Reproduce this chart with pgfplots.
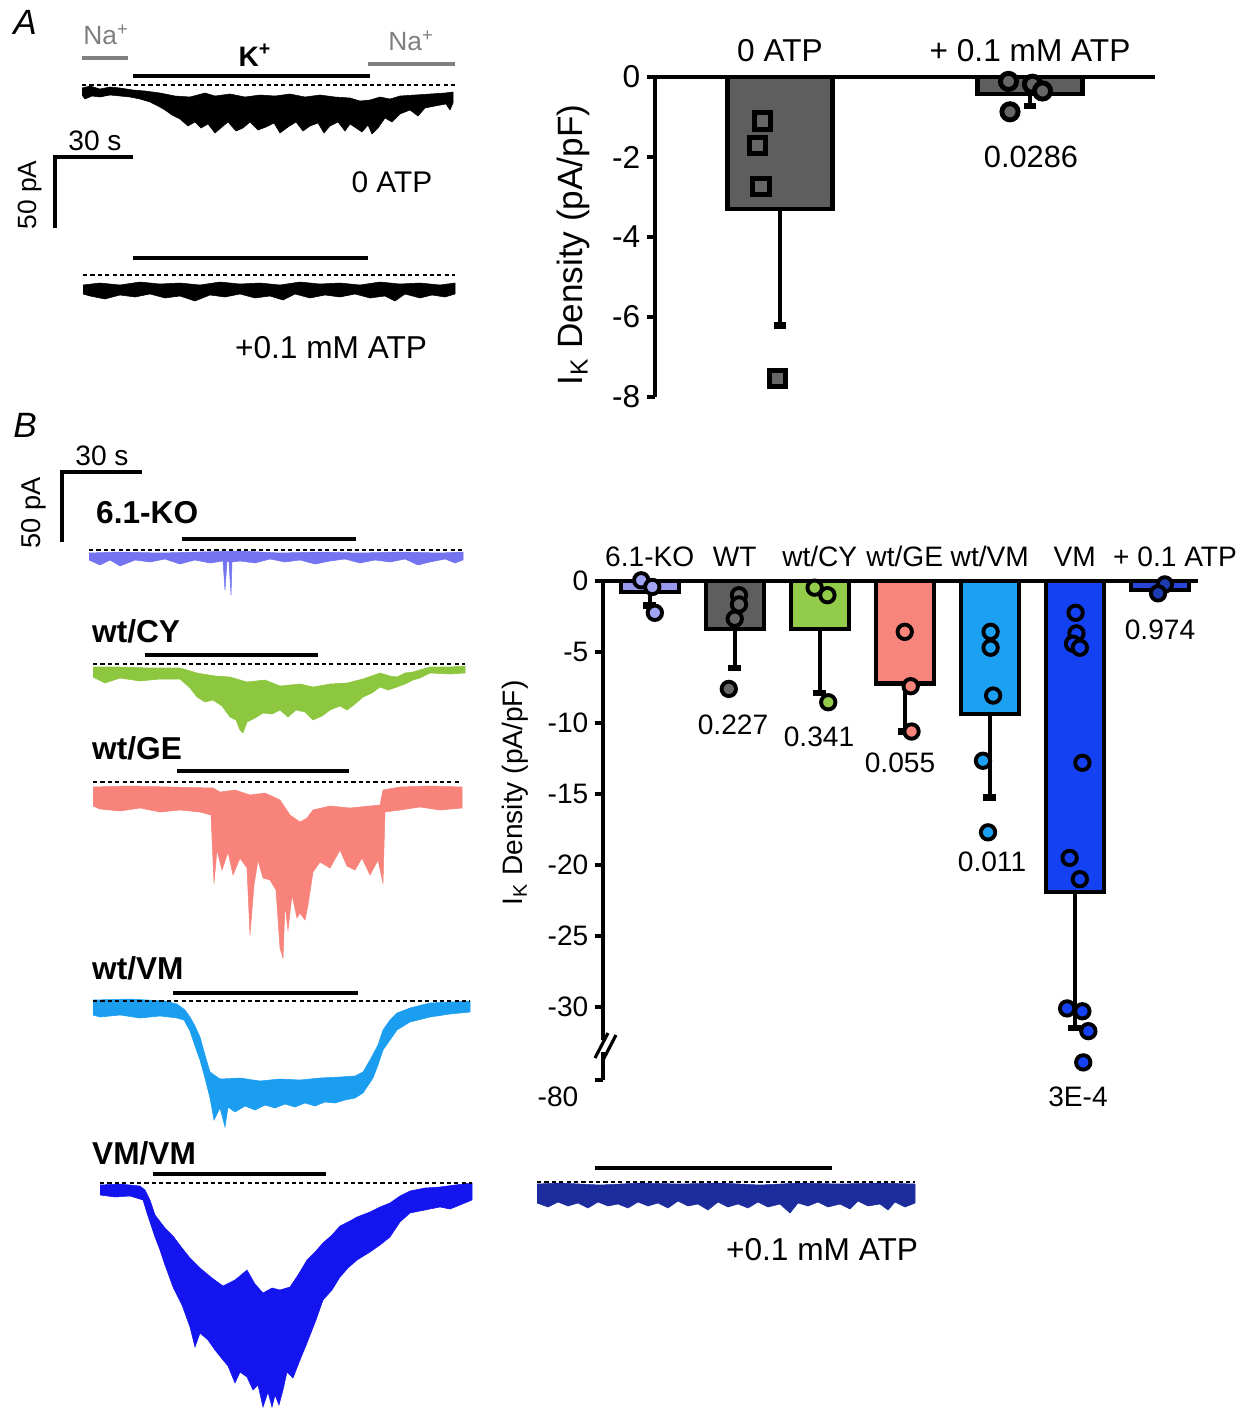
\documentclass[border=0pt]{standalone}
\usepackage{pgfplots}
\pgfplotsset{compat=1.18}
\usepackage{fontspec}
\setmainfont{Liberation Sans}
\newcommand{\fs}[1]{\fontsize{#1}{#1}\selectfont}
\definecolor{ggray}{HTML}{5E5E5E}
\definecolor{ptgray}{HTML}{666666}
\definecolor{kocol}{HTML}{9898EE}
\definecolor{kopt}{HTML}{A0A4F4}
\definecolor{kotr}{HTML}{7474F0}
\definecolor{cycol}{HTML}{92CC4A}
\definecolor{cytr}{HTML}{8DC63F}
\definecolor{gecol}{HTML}{F7857C}
\definecolor{getr}{HTML}{F7837B}
\definecolor{wvcol}{HTML}{1BA0F2}
\definecolor{wvtr}{HTML}{1B9DF0}
\definecolor{vmcol}{HTML}{1441F2}
\definecolor{vmtr}{HTML}{1414EE}
\definecolor{atpcol}{HTML}{2B45D8}
\definecolor{atppt}{HTML}{1D3CB0}
\definecolor{atptr}{HTML}{1C2C9C}
\definecolor{nagray}{HTML}{808080}
\pgfplotsset{
  barax/.style={scale only axis, enlargelimits=false, clip=false,
    axis x line=top, axis y line=left,
    axis line style={line width=2.3pt,-}, x axis line style={-}, y axis line style={-},
    x tick style={draw=none}, tick align=outside,
    y tick style={line width=2.3pt, black}, major tick length=0.17cm},
  errl/.style={black, line width=2.3pt, forget plot, mark=none},
  errc/.style={black, only marks, mark=-, mark size=3.6pt, mark options={line width=3.6pt}, forget plot},
}
\begin{document}
\begin{tikzpicture}
% ---------------- Panel A bar chart ----------------
\begin{axis}[barax, at={(13.1cm,20.4cm)}, anchor=south west, width=10cm, height=6.4cm,
  xmin=0.5, xmax=2.5, ymin=-8, ymax=0,
  xtick={1,2}, xticklabels={0 ATP,+ 0.1 mM ATP},
  ytick={-8,-6,-4,-2,0}, yticklabels={-8,-6,-4,-2,0},
  ticklabel style={font=\fs{18}}]
\addplot[ybar, bar shift=0pt, bar width=0.42, fill=ggray, draw=black, line width=2.3pt] coordinates {(1,-3.31)};
\addplot[ybar, bar shift=0pt, bar width=0.42, fill=ggray, draw=black, line width=2.3pt] coordinates {(2,-0.42)};
\addplot[errl] coordinates {(1,-3.31) (1,-6.21)};
\addplot[errl] coordinates {(2,-0.42) (2,-0.73)};
\addplot[errc] coordinates {(1,-6.21) (2,-0.73)};
\addplot[only marks, mark=square*, mark size=4.6pt, mark options={fill=ptgray, draw=black, line width=2.8pt}]
  coordinates {(0.93,-1.10) (0.91,-1.71) (0.924,-2.73) (0.99,-7.54)};
\addplot[only marks, mark=*, mark size=4.6pt, mark options={fill=ptgray, draw=black, line width=2.8pt}]
  coordinates {(1.914,-0.11) (2.01,-0.18) (2.05,-0.35) (1.92,-0.87)};
\end{axis}
% ---------------- Panel B bar chart ----------------
\begin{axis}[barax, at={(12.06cm,6.74cm)}, anchor=south west, width=11.9cm, height=9.98cm,
  xmin=0.45, xmax=7.45, ymin=-35.14, ymax=0,
  xtick={1,2,3,4,5,6,7.18}, xticklabels={6.1-KO,WT,wt/CY,wt/GE,wt/VM,VM,+ 0.1 ATP},
  ytick={-35.14,-30,-25,-20,-15,-10,-5,0}, yticklabels={,-30,-25,-20,-15,-10,-5,0},
  ticklabel style={font=\fs{16}}]
\addplot[ybar, bar shift=0pt, bar width=0.68, fill=kocol, draw=black, line width=2.3pt] coordinates {(1,-0.78)};
\addplot[ybar, bar shift=0pt, bar width=0.68, fill=ggray, draw=black, line width=2.3pt] coordinates {(2,-3.36)};
\addplot[ybar, bar shift=0pt, bar width=0.68, fill=cycol, draw=black, line width=2.3pt] coordinates {(3,-3.36)};
\addplot[ybar, bar shift=0pt, bar width=0.68, fill=gecol, draw=black, line width=2.3pt] coordinates {(4,-7.22)};
\addplot[ybar, bar shift=0pt, bar width=0.68, fill=wvcol, draw=black, line width=2.3pt] coordinates {(5,-9.36)};
\addplot[ybar, bar shift=0pt, bar width=0.68, fill=vmcol, draw=black, line width=2.3pt] coordinates {(6,-21.9)};
\addplot[ybar, bar shift=0pt, bar width=0.68, fill=atpcol, draw=black, line width=2.3pt] coordinates {(7,-0.66)};
\addplot[errl] coordinates {(1,-0.78) (1,-1.72)};
\addplot[errl] coordinates {(2,-3.36) (2,-6.12)};
\addplot[errl] coordinates {(3,-3.36) (3,-7.88)};
\addplot[errl] coordinates {(4,-7.22) (4,-10.6)};
\addplot[errl] coordinates {(5,-9.36) (5,-15.25)};
\addplot[errl] coordinates {(6,-21.9) (6,-31.5)};
\addplot[errl] coordinates {(7,-0.66) (7,-0.86)};
\addplot[errc] coordinates {(1,-1.72) (2,-6.12) (3,-7.88) (4,-10.6) (5,-15.25) (6,-31.5) (7,-0.86)};
\pgfplotsset{ptst/.style={only marks, mark=*, mark size=4.1pt, mark options={fill=#1, draw=black, line width=2.2pt}}}
\addplot[ptst=kopt] coordinates {(0.90,0.05) (1.03,-0.42) (1.06,-2.24)};
\addplot[ptst=ptgray] coordinates {(2.05,-1.0) (2.05,-1.65) (2.0,-2.66) (1.93,-7.6)};
\addplot[ptst=cycol] coordinates {(2.94,-0.47) (3.09,-1.0) (3.10,-8.54)};
\addplot[ptst=gecol] coordinates {(4.0,-3.58) (4.07,-7.41) (4.08,-10.6)};
\addplot[ptst=wvcol] coordinates {(5.01,-3.58) (5.01,-4.7) (5.04,-8.07) (4.92,-12.66) (4.98,-17.7)};
\addplot[ptst=vmcol] coordinates {(6.01,-2.24) (6.02,-3.69) (5.98,-4.42) (6.06,-4.7) (6.09,-12.8)
  (5.94,-19.5) (6.06,-21.0) (5.91,-30.1) (6.09,-30.3) (6.16,-31.7) (6.10,-33.9)};
\addplot[ptst=atppt] coordinates {(7.06,-0.24) (6.98,-0.87)};
\end{axis}
% ---------------- Canvas (pixel coordinates) ----------------
\begin{axis}[at={(0,0)}, anchor=south west, width=24.92cm, height=28.34cm, scale only axis,
  xmin=0, xmax=1246, ymin=0, ymax=1417, y dir=reverse, hide axis, clip=false]
\path (axis cs:0,0) rectangle (axis cs:1246,1417);
% Panel A traces
\addplot[fill=black, draw=black, line width=0.3pt] coordinates {
(82,88)(90,86)(100,89)(110,87)(120,88)(133,90)(145,91)(160,93)(175,96)(190,97)(205,93)(215,96)(230,94)(245,97)(260,95)(275,96)(290,94)(305,97)(320,95)(335,97)(350,98)(360,101)(370,100)(380,97)(390,99)(400,96)(415,95)(430,94)(445,93)(453,92)
(453,103)(450,110)(446,104)(435,106)(425,108)(418,116)(410,110)(400,114)(392,122)(385,118)(378,128)(372,134)(368,125)(362,132)(356,128)(350,124)(345,131)(338,122)(330,126)(324,133)(318,123)(310,126)(303,131)(296,122)(288,127)(280,133)(274,123)(266,127)(258,130)(250,122)(243,128)(236,131)(228,122)(222,127)(215,133)(208,124)(201,128)(195,122)(188,126)(180,119)(172,115)(165,110)(158,106)(150,102)(140,99)(130,97)(120,96)(110,95)(100,97)(92,96)(85,99)(82,95)};
\addplot[fill=black, draw=black, line width=0.3pt] coordinates {
(83,285)(100,283)(120,285)(140,282)(160,284)(180,283)(200,285)(220,282)(240,284)(260,283)(280,285)(300,282)(320,284)(340,283)(360,285)(380,282)(400,284)(420,283)(440,285)(455,283)
(455,294)(445,297)(432,295)(420,298)(405,294)(395,301)(385,296)(370,298)(355,294)(340,297)(325,295)(310,298)(295,294)(283,300)(270,296)(255,298)(240,294)(225,297)(210,295)(195,301)(180,296)(165,298)(150,294)(135,297)(120,295)(105,299)(90,296)(83,294)};
% Panel B traces
\addplot[fill=kotr, draw=kotr, line width=0.3pt] coordinates {
(89,553)(120,552)(160,553)(200,552)(240,551)(280,553)(320,552)(360,553)(400,552)(440,553)(463,552)
(463,560)(455,563)(445,559)(430,562)(418,565)(405,559)(390,562)(375,560)(360,563)(345,559)(330,561)(315,564)(300,560)(285,562)(270,559)(255,563)(240,561)(232,562)(231,595)(229,562)(227,561)(225,590)(223,561)(210,563)(195,560)(180,564)(165,559)(150,562)(135,560)(120,566)(110,560)(100,565)(89,560)};
\addplot[fill=cytr, draw=cytr, line width=0.3pt] coordinates {
(93,667)(120,667)(150,668)(180,668)(187,670)(197,673)(215,676)(230,677)(247,682)(265,680)(280,686)(300,684)(313,687)(330,684)(347,683)(363,679)(380,673)(390,676)(397,677)(405,673)(413,672)(430,667)(450,667)(465,666)
(465,673)(450,674)(430,673)(420,678)(413,680)(405,684)(397,687)(388,690)(380,687)(372,693)(363,697)(355,704)(347,710)(340,706)(330,710)(322,716)(313,720)(305,712)(296,710)(288,717)(280,710)(272,714)(263,713)(255,718)(247,722)(243,733)(240,730)(236,720)(230,717)(222,706)(213,700)(205,702)(197,697)(190,688)(180,679)(160,679)(140,681)(120,678)(105,683)(93,677)};
\addplot[fill=getr, draw=getr, line width=0.3pt] coordinates {
(93,787)(130,786)(170,787)(213,788)(220,792)(235,790)(250,795)(265,793)(280,800)(290,815)(300,822)(307,818)(313,810)(330,806)(350,808)(370,806)(380,805)(383,790)(400,787)(430,786)(462,787)
(462,808)(440,810)(420,807)(400,810)(385,812)(383,883)(378,860)(370,875)(362,858)(355,870)(347,866)(340,850)(330,868)(320,862)(313,872)(308,905)(305,920)(300,913)(297,918)(292,895)(288,930)(285,905)(283,958)(280,948)(276,890)(270,880)(263,878)(258,860)(254,885)(250,935)(247,868)(240,858)(233,875)(228,852)(222,870)(217,850)(214,883)(211,815)(200,812)(180,810)(160,812)(140,808)(120,811)(100,809)(93,806)};
\addplot[fill=wvtr, draw=wvtr, line width=0.3pt] coordinates {
(93,1000)(130,999)(165,1001)(177,1004)(185,1010)(190,1017)(195,1026)(200,1037)(205,1055)(210,1072)(220,1079)(240,1078)(260,1081)(280,1079)(300,1080)(320,1078)(340,1077)(355,1076)(363,1072)(370,1060)(378,1045)(383,1030)(390,1020)(397,1013)(410,1008)(430,1003)(450,1002)(470,1001)
(470,1012)(450,1014)(430,1017)(410,1022)(397,1030)(390,1040)(383,1050)(378,1065)(373,1078)(363,1093)(355,1098)(345,1100)(335,1103)(325,1102)(315,1106)(305,1103)(295,1107)(285,1104)(275,1108)(265,1105)(255,1110)(245,1106)(235,1112)(228,1107)(225,1127)(220,1108)(214,1120)(210,1098)(205,1078)(200,1060)(195,1046)(190,1031)(184,1020)(177,1018)(160,1016)(140,1018)(120,1015)(100,1017)(93,1015)};
\addplot[fill=vmtr, draw=vmtr, line width=0.3pt] coordinates {
(100,1185)(120,1184)(140,1186)(145,1190)(150,1200)(155,1215)(165,1228)(173,1236)(182,1248)(190,1258)(200,1268)(212,1278)(223,1286)(235,1280)(247,1270)(255,1284)(263,1293)(272,1288)(280,1290)(290,1287)(298,1275)(307,1260)(315,1252)(323,1243)(332,1235)(340,1226)(350,1221)(357,1217)(370,1212)(380,1207)(390,1203)(400,1196)(410,1191)(425,1188)(440,1187)(455,1185)(472,1183)
(472,1200)(460,1205)(450,1209)(440,1207)(425,1210)(410,1213)(400,1222)(390,1237)(380,1245)(370,1252)(357,1260)(348,1268)(340,1277)(332,1290)(323,1300)(316,1320)(307,1343)(300,1360)(293,1378)(287,1372)(283,1390)(279,1405)(275,1395)(272,1407)(268,1392)(263,1407)(258,1385)(253,1390)(247,1377)(240,1372)(235,1383)(228,1366)(223,1360)(215,1350)(208,1340)(200,1333)(195,1347)(190,1327)(182,1305)(173,1287)(165,1265)(160,1250)(155,1237)(150,1222)(147,1213)(143,1200)(130,1196)(115,1197)(100,1195)};
\addplot[fill=atptr, draw=atptr, line width=0.3pt] coordinates {
(537,1184)(560,1183)(600,1185)(640,1183)(680,1184)(720,1183)(760,1185)(800,1183)(840,1184)(880,1183)(915,1184)
(915,1203)(905,1207)(895,1202)(888,1210)(880,1204)(868,1206)(858,1201)(850,1209)(840,1204)(828,1207)(818,1202)(808,1206)(798,1203)(790,1213)(780,1204)(768,1207)(758,1202)(748,1208)(738,1204)(728,1207)(718,1202)(708,1210)(698,1204)(688,1206)(678,1201)(668,1208)(658,1203)(648,1206)(638,1202)(628,1208)(618,1204)(608,1206)(598,1202)(588,1208)(578,1203)(568,1206)(558,1202)(548,1207)(537,1203)};
% dashed baselines
\begin{scope}[dash pattern=on 2.4pt off 1.8pt, line width=1.1pt]
\draw (axis cs:82,85) -- (axis cs:455,85);
\draw (axis cs:83,275) -- (axis cs:455,275);
\draw (axis cs:89,550) -- (axis cs:463,550);
\draw (axis cs:93,664) -- (axis cs:465,664);
\draw (axis cs:93,782) -- (axis cs:462,782);
\draw (axis cs:93,1001) -- (axis cs:470,1001);
\draw (axis cs:100,1183) -- (axis cs:472,1183);
\draw (axis cs:537,1182) -- (axis cs:915,1182);
\end{scope}
% application bars
\begin{scope}[line width=2.8pt]
\draw (axis cs:133,76) -- (axis cs:370,76);
\draw (axis cs:133,258) -- (axis cs:368,258);
\draw (axis cs:182,539) -- (axis cs:356,539);
\draw (axis cs:145,655) -- (axis cs:318,655);
\draw (axis cs:177,771) -- (axis cs:349,771);
\draw (axis cs:173,993) -- (axis cs:358,993);
\draw (axis cs:153,1174) -- (axis cs:326,1174);
\draw (axis cs:595,1168) -- (axis cs:832,1168);
\end{scope}
\draw[nagray, line width=1.8pt] (axis cs:82,58) -- (axis cs:128,58);
\draw[nagray, line width=1.8pt] (axis cs:368,64) -- (axis cs:455,64);
% scale bars
\draw[line width=2.3pt] (axis cs:133,157) -- (axis cs:55,157) -- (axis cs:55,228);
\draw[line width=2.3pt] (axis cs:142,472) -- (axis cs:62,472) -- (axis cs:62,542);
% texts
\node[font=\fs{20}\itshape] at (axis cs:25,22) {A};
\node[font=\fs{20}\itshape] at (axis cs:25,425) {B};
\node[font=\fs{15}, text=nagray] at (axis cs:106,35) {Na\textsuperscript{+}};
\node[font=\fs{15}, text=nagray] at (axis cs:411,41) {Na\textsuperscript{+}};
\node[font=\fs{16}\bfseries] at (axis cs:255,55) {K\textsuperscript{+}};
\node[font=\fs{16}] at (axis cs:95,141) {30 s};
\node[font=\fs{15}, rotate=90] at (axis cs:30,195) {50 pA};
\node[font=\fs{17}] at (axis cs:392,182) {0 ATP};
\node[font=\fs{18}] at (axis cs:331,348) {+0.1 mM ATP};
\node[font=\fs{20}, rotate=90] at (axis cs:573,245) {I\textsubscript{K} Density (pA/pF)};
\node[font=\fs{17.5}] at (axis cs:1031,157) {0.0286};
\node[font=\fs{16}] at (axis cs:102,456) {30 s};
\node[font=\fs{15.5}, rotate=90] at (axis cs:34,513) {50 pA};
\node[font=\fs{18}\bfseries, anchor=west] at (axis cs:90,513) {6.1-KO};
\node[font=\fs{18}\bfseries, anchor=west] at (axis cs:86,631) {wt/CY};
\node[font=\fs{18}\bfseries, anchor=west] at (axis cs:86,748) {wt/GE};
\node[font=\fs{18}\bfseries, anchor=west] at (axis cs:86,968) {wt/VM};
\node[font=\fs{18}\bfseries, anchor=west] at (axis cs:86,1153) {VM/VM};
\node[font=\fs{18}] at (axis cs:822,1250) {+0.1 mM ATP};
\node[font=\fs{16}, rotate=90] at (axis cs:515,793) {I\textsubscript{K} Density (pA/pF)};
\node[font=\fs{16}] at (axis cs:733,725) {0.227};
\node[font=\fs{16}] at (axis cs:819,737) {0.341};
\node[font=\fs{16}] at (axis cs:900,763) {0.055};
\node[font=\fs{16}] at (axis cs:992,862) {0.011};
\node[font=\fs{16}] at (axis cs:1078,1097) {3E-4};
\node[font=\fs{16}] at (axis cs:1160,630) {0.974};
\node[font=\fs{16}] at (axis cs:558,1097) {-80};
% axis break
\fill[white] (axis cs:598,1040) rectangle (axis cs:609,1052);
\draw[line width=1.8pt] (axis cs:595,1058) -- (axis cs:608,1033);
\draw[line width=1.8pt] (axis cs:603,1060) -- (axis cs:616,1035);
\end{axis}
\end{tikzpicture}
\end{document}
